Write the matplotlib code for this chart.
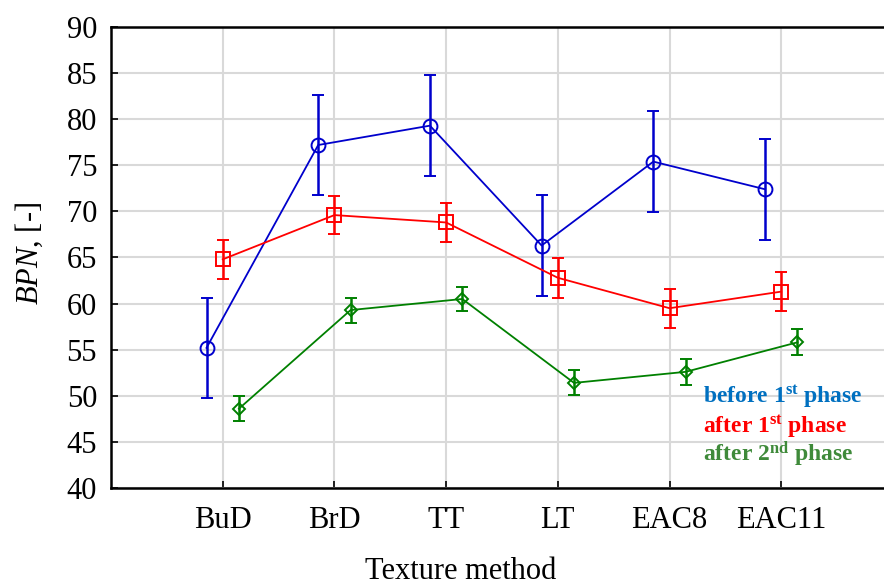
import matplotlib
matplotlib.use("Agg")
import matplotlib.pyplot as plt
import numpy as np

plt.rcParams.update({
    "font.family": "Liberation Serif",
    "mathtext.fontset": "custom",
    "mathtext.rm": "Liberation Serif",
    "mathtext.it": "Liberation Serif:italic",
    "mathtext.bf": "Liberation Serif:bold",
})

# ---------------------------------------------------------------- data
methods = ["BuD", "BrD", "TT", "LT", "EAC8", "EAC11"]

before1 = [55.2, 77.2, 79.3, 66.3, 75.4, 72.4]
before1_err = [5.45, 5.45, 5.5, 5.45, 5.5, 5.45]

after1 = [64.8, 69.6, 68.8, 62.8, 59.5, 61.3]
after1_err = [2.15, 2.1, 2.15, 2.15, 2.1, 2.1]

after2 = [48.6, 59.3, 60.5, 51.4, 52.6, 55.8]
after2_err = [1.35, 1.35, 1.35, 1.35, 1.4, 1.4]

BLUE = "#0000cc"
RED = "#ff0000"
GREEN = "#008000"

# ---------------------------------------------------------------- plot
fig = plt.figure(figsize=(8.84, 5.86), dpi=100)
ax = fig.add_axes([111 / 884, 98 / 586, 773 / 884, 461 / 586])

x = np.arange(1, len(methods) + 1)
off = 0.145
series = [
    (x - off, before1, before1_err, BLUE, "o", 10),
    (x, after1, after1_err, RED, "s", 9.5),
    (x + off, after2, after2_err, GREEN, "D", 6.5),
]
for xs, ys, es, c, m, ms in series:
    ax.errorbar(xs, ys, yerr=es, color=c, marker=m, markersize=ms,
                markerfacecolor="none", markeredgewidth=1.4, linewidth=1.3,
                elinewidth=1.8, capsize=4.5, capthick=1.8, zorder=3)

ax.set_xlim(0, 6.92)
ax.set_ylim(40, 90)
ax.set_yticks(np.arange(40, 91, 5))
ax.set_xticks(x)
ax.set_xticklabels(methods)
ax.grid(True, color="#d9d9d9", linewidth=1.5, zorder=0)
ax.set_axisbelow(True)

ax.spines["right"].set_visible(False)
for s in ["left", "bottom", "top"]:
    ax.spines[s].set_linewidth(1.8)
ax.tick_params(axis="both", direction="in", length=5, width=1.2,
               labelsize=22)
ax.tick_params(axis="x", pad=13)
ax.tick_params(axis="y", pad=10)

ax.set_ylabel(r"$\mathit{BPN}$, [-]", fontsize=22)
ax.yaxis.set_label_coords(-0.085, 0.508)
ax.set_xlabel("Texture method", fontsize=22)
ax.xaxis.set_label_coords(0.453, -0.15)

lx = 703 / 884
fig.text(lx, 1 - 403 / 586, r"before 1$^{\mathbf{st}}$ phase", color="#0070c0",
         fontsize=17, fontweight="bold", va="baseline")
fig.text(lx, 1 - 433 / 586, r"after 1$^{\mathbf{st}}$ phase", color="#ff0000",
         fontsize=17, fontweight="bold", va="baseline")
fig.text(lx, 1 - 461 / 586, r"after 2$^{\mathbf{nd}}$ phase", color="#3f8a3a",
         fontsize=17, fontweight="bold", va="baseline")

fig.savefig("out.png", dpi=100)
